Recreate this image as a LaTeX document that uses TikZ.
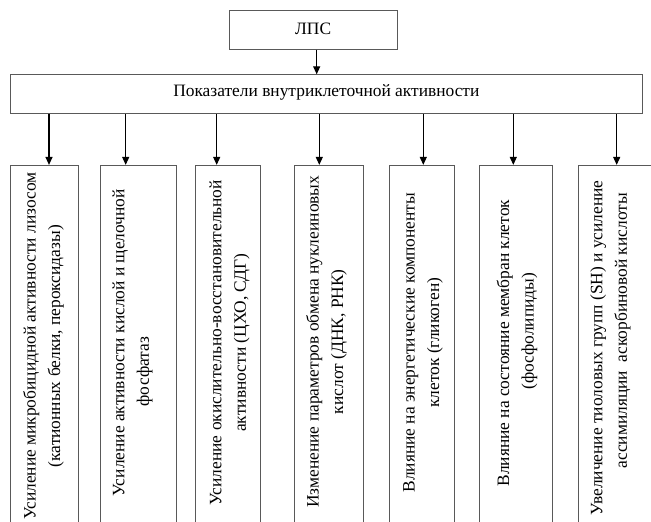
\documentclass[tikz,border=0pt]{standalone}
\usepackage{fontspec}
\setmainfont{Liberation Serif}
\usetikzlibrary{arrows.meta}
\begin{document}
\begin{tikzpicture}[x=1pt,y=-1pt,
  frame/.style={draw=black!65, line width=0.8pt, inner sep=0pt},
  hlbl/.style={font=\fontsize{17.4}{24.5}\selectfont, inner sep=0pt},
  vlbl/.style={font=\fontsize{17.4}{24.5}\selectfont, align=center, inner sep=0pt, rotate=90},
  arr/.style={draw=black, line width=1.2pt, -{Triangle[length=8pt,width=7pt]}}]
\useasboundingbox (0,0) rectangle (651,522);
\clip (0,0) rectangle (651,522);
% top boxes
\node[frame, minimum width=167.7pt, minimum height=38.6pt] (lps) at (313.15,30) {};
\node[hlbl] (lpst) at ([yshift=1.5pt]lps.center) {ЛПС};
\node[frame, minimum width=632.7pt, minimum height=39pt] (main) at (326.35,94.2) {};
\node[hlbl] (maint) at ([yshift=1.5pt]main.center) {Показатели внутриклеточной активности};
% bottom boxes
\node[frame, minimum width=68.7pt, minimum height=364.7pt] (b1) at (44.35,347.65) {};
\node[frame, minimum width=76pt, minimum height=364.7pt] (b2) at (138.7,347.65) {};
\node[frame, minimum width=64.7pt, minimum height=364.7pt] (b3) at (227.65,347.65) {};
\node[frame, minimum width=69.4pt, minimum height=364.7pt] (b4) at (329,347.65) {};
\node[frame, minimum width=65pt, minimum height=364.7pt] (b5) at (421.8,347.65) {};
\node[frame, minimum width=73pt, minimum height=364.7pt] (b6) at (515.5,347.65) {};
\node[frame, minimum width=81.7pt, minimum height=364.7pt] (b7) at (619.15,347.65) {};
% texts
\node[vlbl] (t1) at ([xshift=-0.85pt,yshift=1.5pt]b1.center) {Усиление микробицидной активности лизосом\\(катионных белки, пероксидазы)};
\node[vlbl] (t2) at ([xshift=-6.2pt,yshift=5pt]b2.center) {Усиление активности кислой и щелочной\\фосфатаз\hspace*{58pt}};
\node[vlbl] (t3) at ([xshift=1.85pt,yshift=5pt]b3.center) {Усиление окислительно-восстановительной\\активности (ЦХО, СДГ)};
\node[vlbl] (t4) at ([xshift=-2.5pt,yshift=6pt]b4.center) {Изменение параметров обмена нуклеиновых\\кислот (ДНК, РНК)};
\node[vlbl] (t5) at ([xshift=1.2pt,yshift=5pt]b5.center) {Влияние на энергетические компоненты\\клеток (гликоген)};
\node[vlbl] (t6) at ([xshift=1.5pt,yshift=4.5pt]b6.center) {Влияние на состояние мембран клеток\\\hspace*{24pt}(фосфолипиды)};
\node[vlbl] (t7) at ([xshift=-8.65pt,yshift=0pt]b7.center) {Увеличение тиоловых групп (SH) и усиление\\\hspace*{34pt}ассимиляции\ \ аскорбиновой кислоты};
% arrows
\draw[arr] ([xshift=3.55pt]lps.south) -- ([xshift=3.55pt]lps.south |- main.north);
\draw[arr] ([xshift=4.65pt]b1.north |- main.south) -- ([xshift=4.65pt]b1.north);
\draw[arr] ([xshift=-13pt]b2.north |- main.south) -- ([xshift=-13pt]b2.north);
\draw[arr] ([xshift=-10.95pt]b3.north |- main.south) -- ([xshift=-10.95pt]b3.north);
\draw[arr] ([xshift=-9.7pt]b4.north |- main.south) -- ([xshift=-9.7pt]b4.north);
\draw[arr] ([xshift=1.5pt]b5.north |- main.south) -- ([xshift=1.5pt]b5.north);
\draw[arr] ([xshift=-2.2pt]b6.north |- main.south) -- ([xshift=-2.2pt]b6.north);
\draw[arr] ([xshift=-2.45pt]b7.north |- main.south) -- ([xshift=-2.45pt]b7.north);
\end{tikzpicture}
\end{document}
